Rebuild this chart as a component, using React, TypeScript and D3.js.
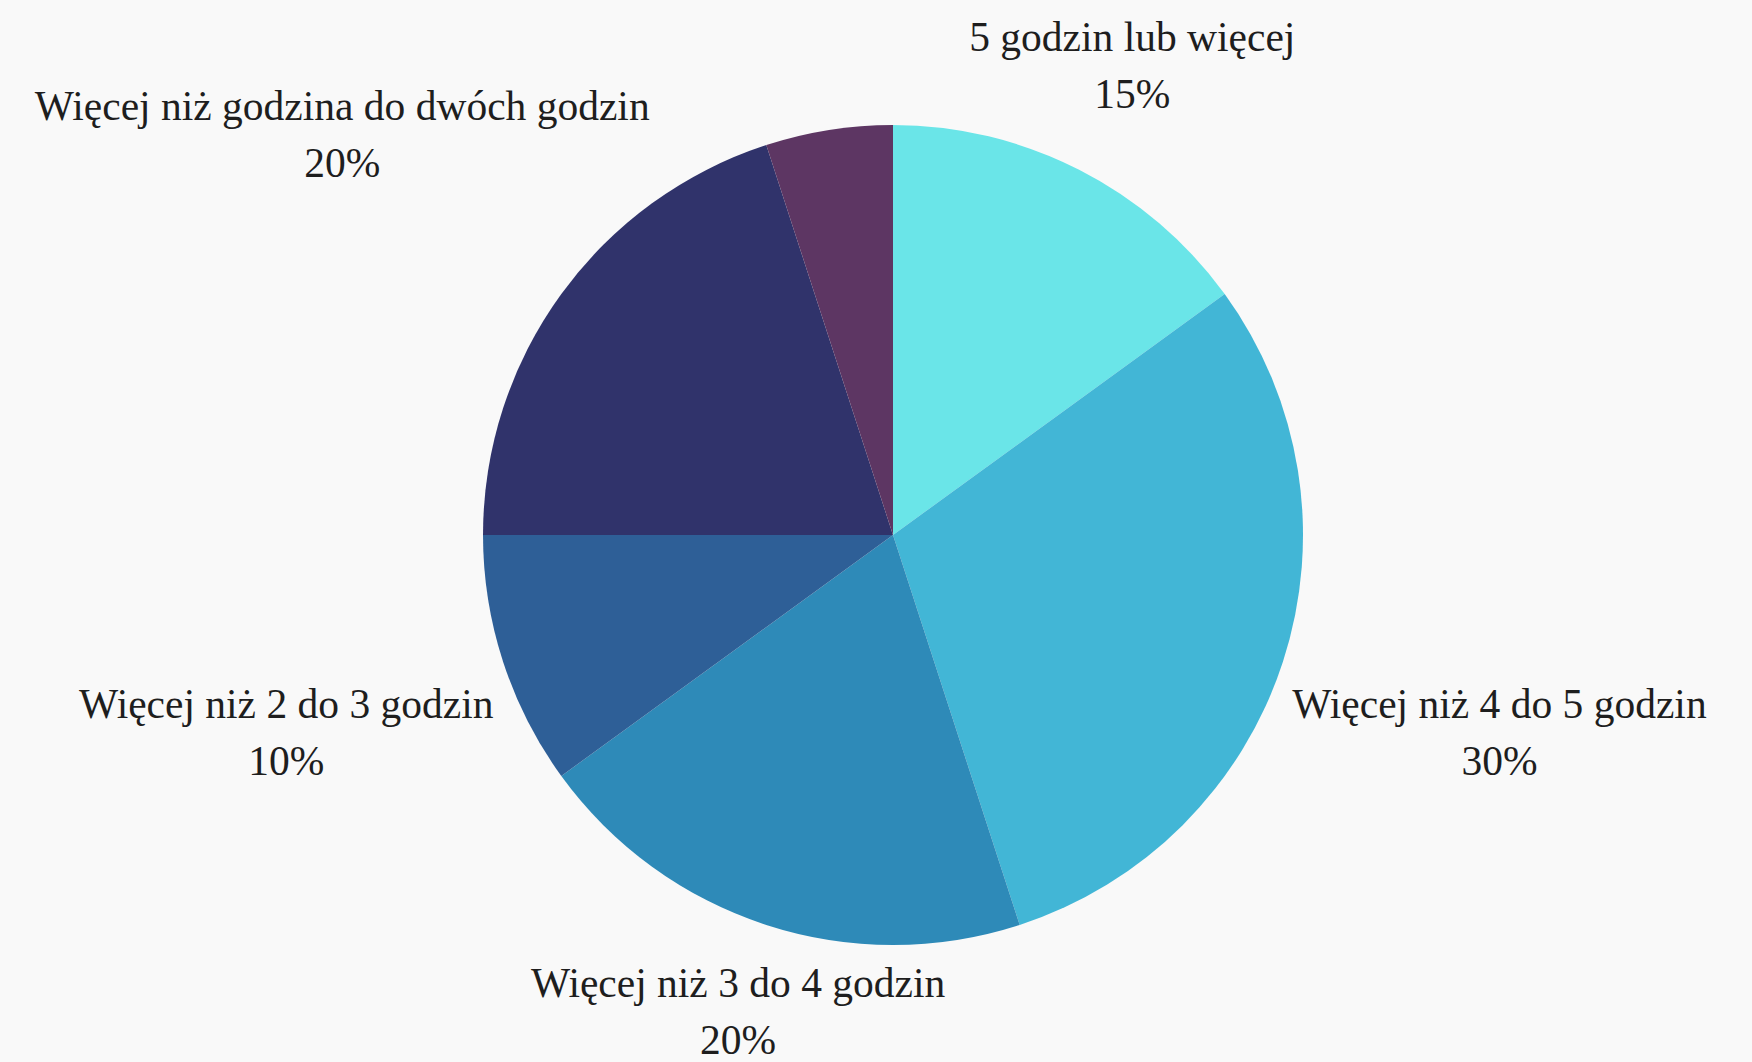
import React, { useEffect, useRef } from 'react';
import * as d3 from 'd3';

const categories = [
  '5 godzin lub więcej',
  'Więcej niż 4 do 5 godzin',
  'Więcej niż 3 do 4 godzin',
  'Więcej niż 2 do 3 godzin',
  'Więcej niż godzina do dwóch godzin',
  'Godzina lub mniej',
];
const values = [15, 30, 20, 10, 20, 5];
const colors = ['#6ae5e8', '#42b6d6', '#2e8ab8', '#2e5f97', '#30336b', '#5d3663'];

const W = 1752;
const H = 1062;
const CX = 893;
const CY = 535;
const R = 410;
const FONT = "'Liberation Serif', 'DejaVu Serif', serif";
const FS = 41.5;
const LINE = 57;
const GAP = 15;

export default function App() {
  const ref = useRef<SVGSVGElement>(null);
  useEffect(() => {
    const svg = d3.select(ref.current as SVGSVGElement);
    svg.selectAll('*').remove();
    svg.append('rect').attr('width', W).attr('height', H).attr('fill', '#f9f9f9');
    const pie = d3.pie<number>().sort(null).value((d) => d);
    const arcs = pie(values);
    const arc = d3.arc<d3.PieArcDatum<number>>().innerRadius(0).outerRadius(R);
    const g = svg.append('g').attr('transform', `translate(${CX},${CY})`);
    g.selectAll('path')
      .data(arcs)
      .join('path')
      .attr('d', (d) => arc(d) as string)
      .attr('fill', (_d, i) => colors[i]);
    const total = d3.sum(values);
    arcs.forEach((a, i) => {
      const share = values[i] / total;
      if (share < 0.06) return;
      const t = g
        .append('text')
        .attr('text-anchor', 'middle')
        .attr('font-family', FONT)
        .attr('font-size', FS)
        .attr('fill', '#1e1e1e');
      t.append('tspan').attr('x', 0).attr('dy', 0).text(categories[i]);
      t.append('tspan').attr('x', 0).attr('dy', LINE).text(`${Math.round(share * 100)}%`);
      const bb = (t.node() as SVGTextElement).getBBox();
      const mid = (a.startAngle + a.endAngle) / 2;
      const ux = Math.sin(mid);
      const uy = -Math.cos(mid);
      const offX = bb.x + bb.width / 2;
      const offY = bb.y + bb.height / 2;
      const nearest = (d: number) => {
        const px = ux * d - offX;
        const py = uy * d - offY;
        const x0 = px + bb.x, x1 = x0 + bb.width;
        const y0 = py + bb.y, y1 = y0 + bb.height;
        const nx = Math.max(x0, Math.min(0, x1));
        const ny = Math.max(y0, Math.min(0, y1));
        return Math.hypot(nx, ny);
      };
      let lo = 0, hi = 3000;
      for (let k = 0; k < 60; k++) {
        const m = (lo + hi) / 2;
        if (nearest(m) < R + GAP) lo = m; else hi = m;
      }
      const d = (lo + hi) / 2;
      t.attr('transform', `translate(${ux * d - offX},${uy * d - offY})`);
    });
  }, []);
  return (
    <div style={{ position: 'absolute', left: 0, top: 0 }}>
      <svg ref={ref} width={W} height={H} style={{ display: 'block' }} />
    </div>
  );
}
